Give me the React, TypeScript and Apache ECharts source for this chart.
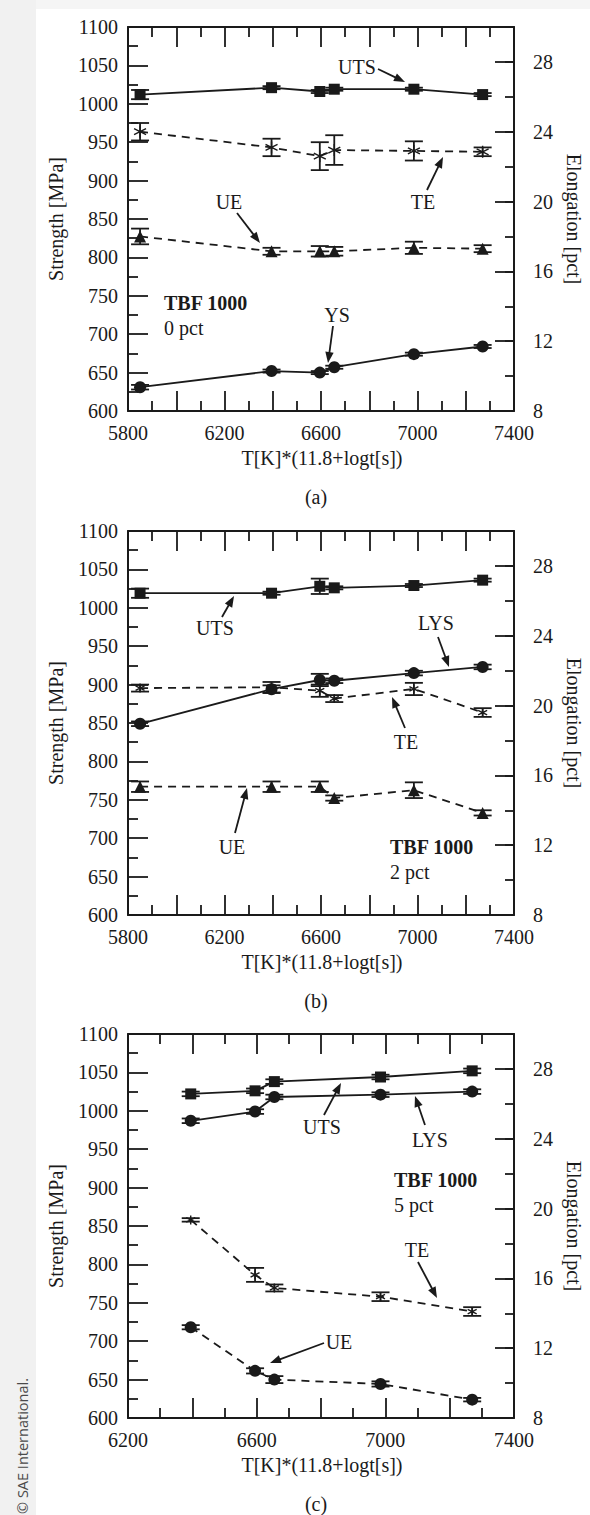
import React, { useEffect, useRef } from 'react';
import * as echarts from 'echarts';

// ---------------- data ----------------
const xAB = [5850, 6395, 6595, 6655, 6985, 7270];
const xC = [6395, 6595, 6655, 6985, 7270];

// panel (a) – 0 pct
const utsA = [1012, 1021, 1016, 1019, 1019, 1012];
const utsErrA = [6, 2, 2, 2, 2, 2];
const ysA = [631, 652, 650, 657, 674, 684];
const ysErrA = [3, 2, 2, 2, 2, 2];
const teA = [24.0, 23.1, 22.6, 22.95, 22.9, 22.85];
const teErrA = [0.5, 0.5, 0.8, 0.85, 0.55, 0.25];
const ueA = [18.0, 17.15, 17.15, 17.15, 17.35, 17.3];
const ueErrA = [0.45, 0.2, 0.3, 0.25, 0.35, 0.2];

// panel (b) – 2 pct
const utsB = [1019, 1019, 1028, 1026, 1029, 1036];
const utsErrB = [6, 2, 10, 2, 2, 2];
const lysB = [849, 894, 906, 905, 915, 923];
const lysErrB = [3, 5, 8, 3, 3, 3];
const teB = [21.0, 21.05, 20.85, 20.4, 20.95, 19.6];
const teErrB = [0.2, 0.3, 0.35, 0.2, 0.35, 0.25];
const ueB = [15.35, 15.35, 15.35, 14.7, 15.15, 13.85];
const ueErrB = [0.3, 0.3, 0.3, 0.15, 0.45, 0.15];

// panel (c) – 5 pct
const utsC = [1022, 1026, 1038, 1044, 1052];
const utsErrC = [3, 3, 3, 3, 3];
const lysC = [987, 999, 1018, 1021, 1025];
const lysErrC = [3, 3, 3, 3, 3];
const teC = [19.35, 16.2, 15.45, 14.95, 14.1];
const teErrC = [0.1, 0.4, 0.2, 0.25, 0.25];
const ueC = [13.2, 10.7, 10.2, 9.95, 9.05];
const ueErrC = [0.12, 0.15, 0.2, 0.15, 0.1];

// tick labels
const xLabelsAB = [5800, 6200, 6600, 7000, 7400];
const xLabelsC = [6200, 6600, 7000, 7400];
const strengthLabels = [600, 650, 700, 750, 800, 850, 900, 950, 1000, 1050, 1100];
const elongLabels = [8, 12, 16, 20, 24, 28];

const xTitle = 'T[K]*(11.8+logt[s])';
const leftTitle = 'Strength [MPa]';
const rightTitle = 'Elongation [pct]';

// ---------------- styling / layout ----------------
const FONT = '"Liberation Serif", "Times New Roman", serif';
const INK = '#1a1a1a';
const LW = 1.8;
const GRID_LEFT = 128;
const GRID_W = 386;
const GRID_H = 384;
const TOPS = [27, 531, 1034];

const asterisk = 'path://M5,0L5,10M0.67,2.5L9.33,7.5M0.67,7.5L9.33,2.5';

type S = { name: string; x: number[]; y: number[]; err: number[]; axis: 'L' | 'R'; sym: string; size: number; dashed: boolean };

const panels: { xMin: number; xMax: number; xLabels: number[]; letter: string; tbf: string[]; tbfPos: [number, number]; series: S[]; notes: { t: string; tx: number; ty: number; a: [number, number, number, number] }[] }[] = [
  {
    xMin: 5800, xMax: 7400, xLabels: xLabelsAB, letter: '(a)', tbf: ['TBF 1000', '0 pct'], tbfPos: [164, 303],
    series: [
      { name: 'UTS', x: xAB, y: utsA, err: utsErrA, axis: 'L', sym: 'rect', size: 11, dashed: false },
      { name: 'YS', x: xAB, y: ysA, err: ysErrA, axis: 'L', sym: 'circle', size: 12, dashed: false },
      { name: 'TE', x: xAB, y: teA, err: teErrA, axis: 'R', sym: asterisk, size: 12, dashed: true },
      { name: 'UE', x: xAB, y: ueA, err: ueErrA, axis: 'R', sym: 'triangle', size: 12, dashed: true },
    ],
    notes: [
      { t: 'UTS', tx: 357, ty: 67, a: [378, 69, 405, 82] },
      { t: 'TE', tx: 423, ty: 202, a: [427, 190, 443, 157] },
      { t: 'UE', tx: 229, ty: 202, a: [237, 213, 260, 243] },
      { t: 'YS', tx: 337, ty: 315, a: [333, 326, 328, 363] },
    ],
  },
  {
    xMin: 5800, xMax: 7400, xLabels: xLabelsAB, letter: '(b)', tbf: ['TBF 1000', '2 pct'], tbfPos: [390, 847],
    series: [
      { name: 'UTS', x: xAB, y: utsB, err: utsErrB, axis: 'L', sym: 'rect', size: 11, dashed: false },
      { name: 'LYS', x: xAB, y: lysB, err: lysErrB, axis: 'L', sym: 'circle', size: 12, dashed: false },
      { name: 'TE', x: xAB, y: teB, err: teErrB, axis: 'R', sym: asterisk, size: 9, dashed: true },
      { name: 'UE', x: xAB, y: ueB, err: ueErrB, axis: 'R', sym: 'triangle', size: 12, dashed: true },
    ],
    notes: [
      { t: 'UTS', tx: 215, ty: 628, a: [222, 617, 234, 596] },
      { t: 'LYS', tx: 436, ty: 623, a: [438, 637, 449, 667] },
      { t: 'TE', tx: 406, ty: 742, a: [405, 728, 392, 697] },
      { t: 'UE', tx: 232, ty: 847, a: [235, 833, 247, 788] },
    ],
  },
  {
    xMin: 6200, xMax: 7400, xLabels: xLabelsC, letter: '(c)', tbf: ['TBF 1000', '5 pct'], tbfPos: [394, 1180],
    series: [
      { name: 'UTS', x: xC, y: utsC, err: utsErrC, axis: 'L', sym: 'rect', size: 11, dashed: false },
      { name: 'LYS', x: xC, y: lysC, err: lysErrC, axis: 'L', sym: 'circle', size: 12, dashed: false },
      { name: 'TE', x: xC, y: teC, err: teErrC, axis: 'R', sym: asterisk, size: 9, dashed: true },
      { name: 'UE', x: xC, y: ueC, err: ueErrC, axis: 'R', sym: 'circle', size: 12, dashed: true },
    ],
    notes: [
      { t: 'UTS', tx: 322, ty: 1127, a: [324, 1115, 341, 1083] },
      { t: 'LYS', tx: 430, ty: 1140, a: [425, 1125, 415, 1096] },
      { t: 'TE', tx: 417, ty: 1250, a: [418, 1262, 437, 1298] },
      { t: 'UE', tx: 339, ty: 1342, a: [324, 1343, 270, 1363] },
    ],
  },
];

function arrow(x1: number, y1: number, x2: number, y2: number) {
  const dx = x2 - x1, dy = y2 - y1;
  const L = Math.hypot(dx, dy) || 1;
  const ux = dx / L, uy = dy / L;
  const hl = 11, hw = 4.2;
  const bx = x2 - ux * hl, by = y2 - uy * hl;
  return [
    { type: 'line', shape: { x1, y1, x2: bx + ux * 2, y2: by + uy * 2 }, style: { stroke: INK, lineWidth: LW }, silent: true },
    {
      type: 'polygon',
      shape: { points: [[x2, y2], [bx - uy * hw, by + ux * hw], [bx + uy * hw, by - ux * hw]] },
      style: { fill: INK },
      silent: true,
    },
  ];
}

function text(t: string, x: number, y: number, opts: any = {}) {
  return {
    type: 'text', x, y, rotation: opts.rotation || 0, silent: true,
    style: {
      text: t, fill: opts.fill || INK, align: opts.align || 'center', verticalAlign: 'middle',
      fontFamily: opts.fontFamily || FONT, fontSize: opts.fontSize || 20, fontWeight: opts.fontWeight || 'normal',
    },
  };
}

function buildOption() {
  const grid: any[] = [];
  const xAxis: any[] = [];
  const yAxis: any[] = [];
  const series: any[] = [];
  const graphic: any[] = [
    { type: 'rect', shape: { x: 0, y: 0, width: 36, height: 1515 }, style: { fill: '#f1f1f1' }, silent: true },
    { type: 'rect', shape: { x: 36, y: 0, width: 554, height: 9 }, style: { fill: '#f5f5f5' }, silent: true },
    text('© SAE International.', 22, 1446, { rotation: Math.PI / 2, fontFamily: '"Open Sans", "Noto Sans", sans-serif', fontSize: 14.5, fill: '#4a4a4a' }),
  ];

  const axisLine = { show: true, lineStyle: { color: INK, width: 2 } };
  const tickLine = { color: INK, width: LW };
  const labelStyle = { color: INK, fontFamily: FONT, fontSize: 20 };

  panels.forEach((p, i) => {
    const top = TOPS[i];
    grid.push({ left: GRID_LEFT, top, width: GRID_W, height: GRID_H, containLabel: false });
    // bottom x
    xAxis.push({
      type: 'value', gridIndex: i, position: 'bottom', min: p.xMin, max: p.xMax, interval: 200,
      axisLine, splitLine: { show: false },
      axisTick: { inside: true, length: 20, lineStyle: tickLine },
      minorTick: { show: true, splitNumber: 2, length: 10, lineStyle: tickLine },
      axisLabel: { ...labelStyle, margin: 12, formatter: (v: number) => (p.xLabels.includes(v) ? String(v) : '') },
    });
    // top x (ticks only)
    xAxis.push({
      type: 'value', gridIndex: i, position: 'top', min: p.xMin, max: p.xMax, interval: 200,
      axisLine, splitLine: { show: false },
      axisTick: { inside: true, length: 20, lineStyle: tickLine },
      minorTick: { show: true, splitNumber: 2, length: 10, lineStyle: tickLine },
      axisLabel: { show: false },
    });
    // left strength
    yAxis.push({
      type: 'value', gridIndex: i, position: 'left', min: 600, max: 1100, interval: 50,
      axisLine, splitLine: { show: false },
      axisTick: { inside: true, length: 20, lineStyle: tickLine },
      minorTick: { show: true, splitNumber: 2, length: 10, lineStyle: tickLine },
      axisLabel: { ...labelStyle, margin: 10, formatter: (v: number) => (strengthLabels.includes(v) ? String(v) : '') },
    });
    // right elongation (major)
    yAxis.push({
      type: 'value', gridIndex: i, position: 'right', min: 8, max: 30, interval: 4,
      axisLine, splitLine: { show: false },
      axisTick: { inside: true, length: 19, lineStyle: tickLine },
      axisLabel: { ...labelStyle, margin: 19, showMaxLabel: false, formatter: (v: number) => (elongLabels.includes(v) ? String(v) : '') },
    });
    // right elongation (minor ticks)
    yAxis.push({
      type: 'value', gridIndex: i, position: 'right', min: 8, max: 30, interval: 2,
      axisLine: { show: false }, splitLine: { show: false },
      axisTick: { inside: true, length: 9, lineStyle: tickLine },
      axisLabel: { show: false },
    });

    p.series.forEach((s) => {
      const yIdx = i * 3 + (s.axis === 'L' ? 0 : 1);
      const data = s.x.map((xv, k) => [xv, s.y[k], s.err[k]]);
      series.push({
        type: 'custom', name: s.name + ' err', xAxisIndex: i * 2, yAxisIndex: yIdx, data, clip: false,
        encode: { x: 0, y: 1 }, silent: true, z: 3,
        renderItem: (_params: any, api: any) => {
          const x = api.value(0), y = api.value(1), e = api.value(2);
          const t = api.coord([x, y + e]);
          const b = api.coord([x, y - e]);
          const w = 9;
          const st = { stroke: INK, lineWidth: LW };
          return {
            type: 'group',
            children: [
              { type: 'line', shape: { x1: t[0], y1: t[1], x2: b[0], y2: b[1] }, style: st },
              { type: 'line', shape: { x1: t[0] - w, y1: t[1], x2: t[0] + w, y2: t[1] }, style: st },
              { type: 'line', shape: { x1: b[0] - w, y1: b[1], x2: b[0] + w, y2: b[1] }, style: st },
            ],
          };
        },
      });
      const isAst = s.sym === asterisk;
      series.push({
        type: 'line', name: s.name, xAxisIndex: i * 2, yAxisIndex: yIdx,
        data: s.x.map((xv, k) => [xv, s.y[k]]),
        symbol: s.sym, symbolSize: s.size, showSymbol: true, z: 4,
        itemStyle: isAst
          ? { color: 'rgba(0,0,0,0)', borderColor: INK, borderWidth: 1.4 }
          : { color: INK, borderColor: INK, borderWidth: 0 },
        lineStyle: { color: INK, width: LW, type: s.dashed ? [8, 6] : 'solid' },
        silent: true,
      });
    });

    // titles
    graphic.push(text(leftTitle, 56, top + 192, { rotation: Math.PI / 2 }));
    graphic.push(text(rightTitle, 574, top + 192, { rotation: -Math.PI / 2 }));
    graphic.push(text(xTitle, 322, top + 431));
    graphic.push(text(p.letter, 316, top + 470));
    graphic.push(text(p.tbf[0], p.tbfPos[0], p.tbfPos[1], { align: 'left', fontWeight: 'bold' }));
    graphic.push(text(p.tbf[1], p.tbfPos[0], p.tbfPos[1] + 25, { align: 'left' }));
    p.notes.forEach((n) => {
      graphic.push(text(n.t, n.tx, n.ty));
      graphic.push(...arrow(n.a[0], n.a[1], n.a[2], n.a[3]));
    });
  });

  return {
    animation: false,
    backgroundColor: '#ffffff',
    grid, xAxis, yAxis, series,
    graphic: { elements: graphic },
  };
}

export default function App() {
  const ref = useRef<HTMLDivElement>(null);
  useEffect(() => {
    if (!ref.current) return;
    const chart = echarts.init(ref.current, undefined, { renderer: 'svg' });
    chart.setOption(buildOption() as any);
    return () => chart.dispose();
  }, []);
  return <div ref={ref} style={{ position: 'absolute', left: 0, top: 0, width: 590, height: 1515, background: '#fff' }} />;
}
